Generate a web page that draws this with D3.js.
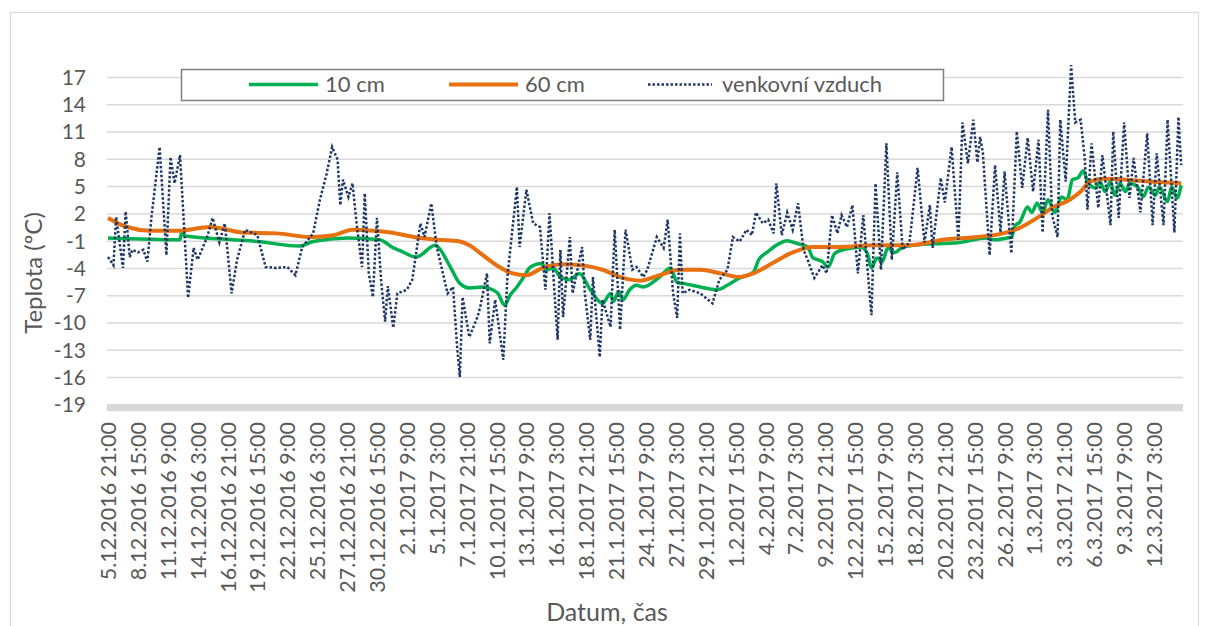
<!DOCTYPE html>
<html>
<head>
<meta charset="utf-8">
<script src="https://cdn.jsdelivr.net/npm/d3@7"></script>
<style>
body{margin:0;background:#fff;}
svg text{font-family:Lato,"Open Sans",sans-serif;fill:#595959;}
</style>
</head>
<body>
<svg id="chart" width="1209" height="626"></svg>
<script>
// x labels (every 66 h from 5.12.2016 21:00)
var xLabels = ["5.12.2016 21:00","8.12.2016 15:00","11.12.2016 9:00","14.12.2016 3:00","16.12.2016 21:00",
	"19.12.2016 15:00","22.12.2016 9:00","25.12.2016 3:00","27.12.2016 21:00","30.12.2016 15:00",
	"2.1.2017 9:00","5.1.2017 3:00","7.1.2017 21:00","10.1.2017 15:00","13.1.2017 9:00","16.1.2017 3:00",
	"18.1.2017 21:00","21.1.2017 15:00","24.1.2017 9:00","27.1.2017 3:00","29.1.2017 21:00","1.2.2017 15:00",
	"4.2.2017 9:00","7.2.2017 3:00","9.2.2017 21:00","12.2.2017 15:00","15.2.2017 9:00","18.2.2017 3:00",
	"20.2.2017 21:00","23.2.2017 15:00","26.2.2017 9:00","1.3.2017 3:00","3.3.2017 21:00","6.3.2017 15:00",
	"9.3.2017 9:00","12.3.2017 3:00"];
var yTicks = [17,14,11,8,5,2,-1,-4,-7,-10,-13,-16,-19];

// hours since 5.12.2016 21:00
var soil10Hours = [0,159,162,171,276,330,423,453,528,600,630,645,681,723,729,756,777,798,828,849,861,876,888,903,918,933,957,969,984,999,
	1020,1041,1065,1092,1110,1116,1128,1137,1152,1167,1182,1218,1242,1257,1269,1308,1344,1368,1395,1425,1437,1455,1476,1500,1521,1545,1557,1578,1590,1605,
	1623,1644,1662,1677,1686,1698,1710,1722,1737,1755,1779,1881,1941,1956,1986,1995,2004,2013,2031,2040,2052,2064,2076,2091,2106,2118,2130,2142,2154,2163,
	2181,2190,2202,2214,2223,2235,2247,2256,2274,2286,2298,2313,2322,2340,2349,2361,2370];
var soil10Temp = [-0.7,-0.9,-0.2,-0.5,-0.9,-1.1,-1.6,-1.1,-0.7,-0.9,-1.8,-2.1,-2.8,-1.5,-1.7,-3.9,-5.7,-6.2,-6.1,-6.4,-6.8,-8.1,-7.0,-6.1,-5.0,-3.9,-3.5,-4.2,-4.0,-5.0,
	-5.3,-4.6,-6.4,-7.9,-6.8,-7.7,-6.6,-7.5,-6.4,-5.9,-6.1,-5.0,-4.0,-5.6,-5.7,-6.1,-6.4,-5.9,-5.1,-4.5,-3.1,-2.3,-1.5,-1.0,-1.3,-1.7,-2.9,-3.3,-3.9,-2.4,
	-2.0,-1.8,-1.7,-2.4,-4.0,-2.9,-3.3,-1.8,-2.3,-1.7,-1.5,-1.2,-0.7,-0.9,-0.7,-0.6,0.7,1.0,2.7,2.1,3.1,2.1,3.5,2.1,3.8,3.5,5.7,5.9,6.7,5.5,
	4.8,5.5,4.4,5.5,4.0,5.3,4.4,5.3,4.9,3.8,4.9,4.0,4.9,3.3,4.9,3.7,5.1];

var soil60Hours = [0,42,93,159,225,297,372,447,498,540,585,624,675,726,777,798,828,858,894,924,960,1005,1059,1092,1137,1176,
	1218,1263,1308,1353,1395,1425,1470,1512,1557,1617,1689,1770,1845,1920,1977,2013,2052,2088,2124,2148,2169,2196,2250,2301,2370];
var soil60Temp = [1.5,0.5,0.1,0.1,0.5,-0.1,-0.2,-0.6,-0.4,0.2,0.1,-0.1,-0.6,-0.9,-1.1,-1.5,-2.6,-3.7,-4.6,-4.8,-4.0,-3.6,-3.8,-4.2,-5.1,-5.4,
	-4.8,-4.2,-4.2,-4.6,-5.0,-4.6,-3.4,-2.3,-1.7,-1.7,-1.5,-1.5,-0.9,-0.6,-0.2,0.4,1.5,2.7,3.5,4.4,5.5,5.8,5.7,5.5,5.3];

var airHours = [0,12,18,33,39,48,54,66,78,87,96,114,129,138,147,159,177,189,198,219,231,246,258,273,285,303,330,348,372,396,
	414,429,453,468,483,495,507,513,519,531,540,549,561,567,576,585,594,603,612,618,630,639,660,672,690,699,714,726,750,762,
	771,777,783,798,816,822,837,843,855,873,882,903,909,924,939,954,966,975,987,993,999,1005,1020,1026,1047,1053,1065,1071,1086,1092,
	1110,1119,1131,1143,1158,1167,1182,1191,1212,1227,1236,1248,1257,1263,1269,1284,1308,1335,1350,1368,1380,1395,1410,1422,1431,1446,1458,1470,1476,1488,
	1500,1512,1524,1536,1545,1560,1578,1587,1599,1611,1620,1632,1644,1656,1668,1677,1686,1695,1707,1719,1731,1743,1755,1770,1788,1803,1815,1821,1839,1848,
	1863,1878,1887,1899,1911,1920,1926,1932,1947,1959,1971,1980,1995,2007,2019,2031,2043,2055,2064,2076,2085,2097,2103,2115,2127,2136,2148,2157,2163,2172,
	2187,2196,2214,2220,2232,2244,2256,2265,2280,2295,2307,2316,2331,2340,2355,2364,2370];
var airTemp = [-2.8,-3.7,1.6,-4.0,2.2,-2.8,-2.0,-2.3,-2.0,-3.3,1.6,9.3,-2.6,8.2,5.3,8.4,-7.3,-1.8,-3.1,-0.6,1.5,-1.2,0.9,-6.8,-3.1,0.2,-0.4,-3.9,-4.0,-3.9,
	-4.8,-1.7,-0.2,3.5,6.4,9.3,7.9,2.9,5.7,3.8,5.3,0.9,-3.9,4.2,-4.6,-7.2,1.5,-5.3,-9.9,-6.0,-10.6,-6.8,-6.4,-5.3,0.9,-0.6,3.1,-1.7,-6.8,-6.1,
	-12.7,-16.0,-7.2,-11.6,-9.4,-8.3,-4.6,-12.3,-7.5,-14.1,-5.0,4.9,-1.7,4.6,0.9,0.5,-6.4,2.0,-7.5,-11.9,-2.0,-9.4,-0.6,-6.8,-1.7,-6.8,-11.9,-5.0,-13.8,-7.5,
	-10.5,0.2,-10.8,0.2,-4.2,-3.9,-5.0,-4.2,-0.6,-1.8,1.3,-6.8,-9.5,-0.2,-6.8,-6.4,-6.8,-7.9,-5.3,-4.2,-0.6,-1.1,0.2,-0.4,2.1,0.9,1.3,-0.2,5.3,-0.4,
	2.1,0.2,3.1,-2.0,-3.1,-5.1,-3.7,-4.6,1.8,-0.2,1.8,0.5,2.9,-4.6,1.8,-3.9,-9.2,5.3,-4.2,9.7,-3.1,6.5,-2.0,-1.2,7.0,-1.2,2.9,-1.8,5.9,3.2,
	9.3,-0.9,12.0,7.5,12.3,7.6,10.4,8.7,-2.6,7.3,-0.1,6.6,-2.4,11.0,4.8,10.3,4.4,10.1,-0.1,13.4,1.8,-0.6,12.3,5.5,18.3,12.0,12.3,8.1,2.4,9.7,
	2.6,8.4,0.7,11.0,1.5,12.0,3.7,8.1,2.1,10.8,0.7,8.6,0.7,12.3,-0.1,12.6,7.3];

var seriesNames = ["10 cm","60 cm","venkovní vzduch"];

var svg = d3.select("#chart");

// outer chart border
svg.append("rect").attr("x",10.5).attr("y",12.5).attr("width",1188).attr("height",640)
	.style("fill","none").style("stroke","#d9d9d9").style("stroke-width",1.2);

var x = d3.scaleLinear().domain([0,2310]).range([108,1154]);
var y = d3.scaleLinear().domain([-19,17]).range([404.3,77]);
var left = 107, right = 1183;

// gridlines + y labels
var yAxis = svg.append("g").attr("transform","translate("+left+",0)")
	.call(d3.axisLeft(y).tickValues(yTicks).tickSize(-(right-left)).tickPadding(21).tickFormat(function(d){return String(d);}));
yAxis.select(".domain").remove();
yAxis.selectAll("line").style("stroke","#d9d9d9").style("stroke-width",1.5);
yAxis.selectAll("text").style("font-size","21px").style("fill","#595959").attr("dy","0.35em");

// bottom band (horizontal axis)
svg.append("rect").attr("x",left).attr("y",y(-19)).attr("width",right-left).attr("height",7)
	.style("fill","#d9d9d9");

// x labels
var tickHours = xLabels.map(function(d,i){return i*66;});
var xAxis = svg.append("g").attr("transform","translate(0,411)")
	.call(d3.axisBottom(x).tickValues(tickHours).tickSize(0).tickFormat(function(d,i){return xLabels[i];}));
xAxis.select(".domain").remove();
xAxis.selectAll("text")
	.attr("transform","rotate(-90)")
	.attr("x",-11).attr("y",0).attr("dy","0.35em")
	.style("text-anchor","end").style("font-size","21.5px").style("fill","#595959");

// lines
var line = d3.line().x(function(d){return x(d[0]);}).y(function(d){return y(d[1]);});
var smooth = d3.line().curve(d3.curveMonotoneX).x(function(d){return x(d[0]);}).y(function(d){return y(d[1]);});

svg.append("path").datum(d3.zip(soil10Hours,soil10Temp)).attr("d",smooth)
	.style("fill","none").style("stroke","#00b050").style("stroke-width",3.5).style("stroke-linejoin","round");
svg.append("path").datum(d3.zip(soil60Hours,soil60Temp)).attr("d",smooth)
	.style("fill","none").style("stroke","#e8700e").style("stroke-width",4).style("stroke-linejoin","round");
svg.append("path").datum(d3.zip(airHours,airTemp)).attr("d",line)
	.style("fill","none").style("stroke","#1f3864").style("stroke-width",2.5).style("stroke-dasharray","2.5,2");

// legend
svg.append("rect").attr("x",181.5).attr("y",69.5).attr("width",762).attr("height",31)
	.style("fill","#fff").style("stroke","#7f7f7f").style("stroke-width",1.5);
var legX = [249,449,648];
var legStyle = [{c:"#00b050",w:3.5,dash:null},{c:"#e8700e",w:4,dash:null},{c:"#1f3864",w:2.5,dash:"2.5,2"}];
seriesNames.forEach(function(name,i){
	var l = svg.append("line").attr("x1",legX[i]).attr("x2",legX[i]+(i==2?64:69)).attr("y1",84.5).attr("y2",84.5)
		.style("stroke",legStyle[i].c).style("stroke-width",legStyle[i].w);
	if(legStyle[i].dash) l.style("stroke-dasharray",legStyle[i].dash);
	svg.append("text").attr("x",legX[i]+(i==2?74:76)).attr("y",84.5).attr("dy","0.35em")
		.style("font-size","22px").text(name);
});

// axis titles
svg.append("text").attr("transform","translate(42,273) rotate(-90)").style("text-anchor","middle")
	.style("font-size","24px").text("Teplota (ºC)");
svg.append("text").attr("x",607).attr("y",621).style("text-anchor","middle")
	.style("font-size","25px").text("Datum, čas");
</script>
</body>
</html>
